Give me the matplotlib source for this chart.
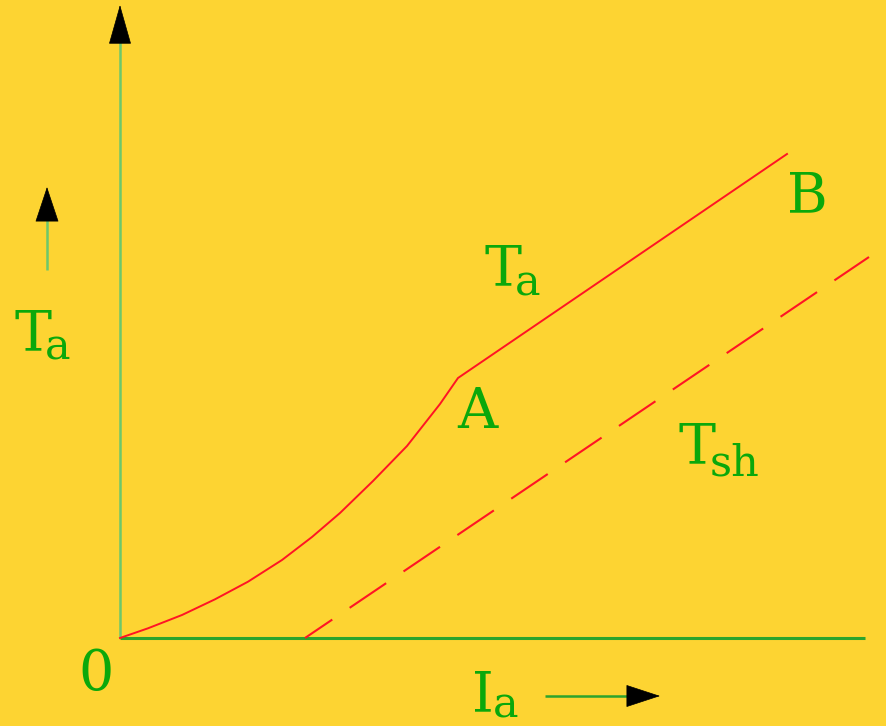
import matplotlib
matplotlib.use("Agg")
import matplotlib.pyplot as plt

# ---- data (arbitrary units) ----
Ia_curve = [0, 2.8, 6.2, 9.5, 12.8, 16.2, 19.2, 22.0, 25.3, 28.7, 32.0, 33.8, 66.7]
Ta_curve = [0, 0.97, 2.3, 3.87, 5.63, 7.8, 10.1, 12.5, 15.7, 19.2, 23.4, 26.0, 48.4]
Ia_shunt = [18.5, 74.9]
Tsh_vals = [0, 38.1]

BG = "#FDD432"
GREEN_TXT = "#0BA80B"
RED = "#FF1424"
AX_V = "#6CC86C"
AX_H = "#2CA42C"

plt.rcParams["lines.scale_dashes"] = False
fig = plt.figure(figsize=(8.87, 7.26), dpi=100, facecolor=BG)
ax = fig.add_axes([0, 0, 1, 1])
ax.set_facecolor(BG)
ax.set_xlim(-12.0, 76.7)
ax.set_ylim(-8.8, 63.8)
ax.axis("off")

# px helpers for annotation placement (units = 10 px)
def U(px, py):
    return ((px - 120) / 10.0, (638 - py) / 10.0)

# axes lines
ax.plot([0, 0], [0, 60.0], color=AX_V, lw=1.8, solid_capstyle="butt", zorder=2)
ax.plot([0, 74.5], [0, 0], color=AX_H, lw=2.2, solid_capstyle="butt", zorder=2)

def head(tip, base, L, W):
    ax.annotate("", xy=tip, xytext=base,
                arrowprops=dict(arrowstyle=f"-|>,head_length={L*0.72:.2f},head_width={W/2*0.72:.2f}",
                                mutation_scale=1, color="black", lw=0.5,
                                shrinkA=0, shrinkB=0), zorder=5)

# axis arrowheads
head(U(120, 5), U(120, 42), 37, 21)
head(U(896, 639), U(858, 639), 38, 23)

# curves
ax.plot(Ia_curve, Ta_curve, color=RED, lw=1.4, zorder=3, solid_joinstyle="round")
ax.plot(Ia_shunt, Tsh_vals, color=RED, lw=1.5, linestyle=(8, (31.7, 15.1)), zorder=3)

# small direction arrows
x0, y0 = U(47, 270); x1, y1 = U(47, 220)
ax.plot([x0, x1], [y0, y1], color=AX_V, lw=1.8, solid_capstyle="butt")
head(U(47, 187), U(47, 220), 33, 22)
x0, y0 = U(545, 696); x1, y1 = U(628, 696)
ax.plot([x0, x1], [y0, y1], color=AX_H, lw=1.8, solid_capstyle="butt")
head(U(660, 696), U(628, 696), 32, 21)

FONT = "DejaVu Serif"
FS = 40
FS_SUB = 31

def txt(px, py, s, fs=FS, ha="left"):
    x, y = U(px, py)
    ax.text(x, y, s, fontsize=fs, family=FONT, color=GREEN_TXT, ha=ha, va="baseline", zorder=6)

# labels
txt(14, 350, "T"); txt(45, 360, "a", FS_SUB)
txt(485, 285, "T"); txt(515, 295, "a", FS_SUB)
txt(457, 428, "A")
txt(787, 212, "B")
txt(679, 463, "T"); txt(710, 475, "sh", FS_SUB)
txt(96, 690, "0", ha="center")
txt(472, 711, "I"); txt(493, 718, "a", FS_SUB)

fig.savefig("out.png", dpi=100, facecolor=BG)
